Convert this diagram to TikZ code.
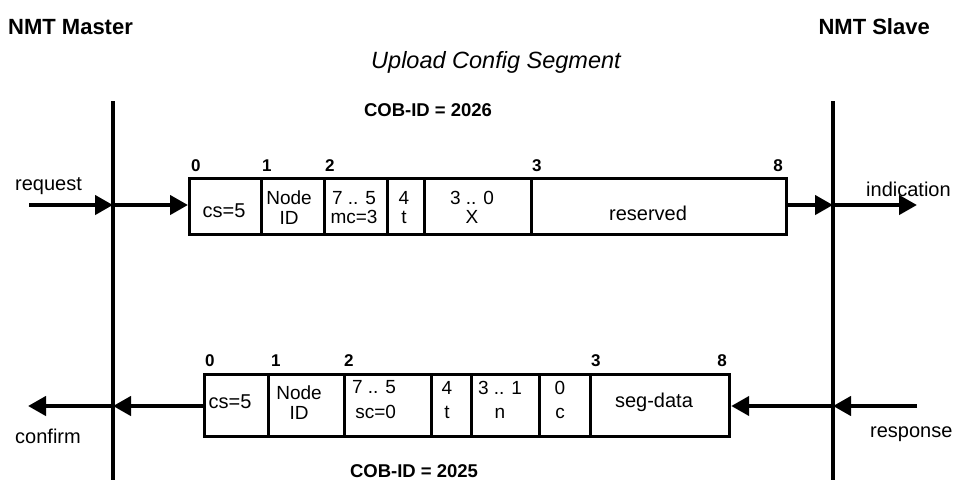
\documentclass[tikz,border=0pt]{standalone}
\usepackage{fontspec}
\setmainfont{Liberation Sans}
\usetikzlibrary{arrows.meta}
\begin{document}
\begin{tikzpicture}[x=1pt,y=-1pt,
  tl/.style={line width=4.5pt},
  arr/.style={line width=4.2pt,-{Triangle[length=18pt,width=19pt]}},
  cell/.style={draw,line width=3.2pt,anchor=north west,inner sep=0pt},
  txt/.style={anchor=base,inner sep=0pt,font=\fontsize{20}{20}\selectfont},
  two/.style={anchor=north,inner sep=0pt,align=center,font=\fontsize{19}{19.5}\selectfont},
  num/.style={anchor=base west,inner sep=0pt,font=\fontsize{17}{17}\selectfont\bfseries},
  head/.style={inner sep=0pt,font=\fontsize{22}{22}\selectfont\bfseries},
  cob/.style={anchor=base,inner sep=0pt,font=\fontsize{18.5}{18.5}\selectfont\bfseries}]
\useasboundingbox (0,0) rectangle (957,480);
% headings
\node[head,anchor=base west] (hm) at (8,34) {NMT Master};
\node[head,anchor=base east] (hs) at (930,34) {NMT Slave};
\node[anchor=base,inner sep=0pt,font=\fontsize{23.5}{23.5}\selectfont\itshape] (title) at (496,68) {Upload Config Segment};
\node[cob] (cobA) at (428,116) {COB-ID = 2026};
\node[cob] (cobB) at (414,477) {COB-ID = 2025};
% time lines
\coordinate (mt) at (113,101); \coordinate (mb) at (113,480);
\coordinate (st) at (833,101); \coordinate (sb) at (833,480);
\draw[tl] (mt) -- (mb);
\draw[tl] (st) -- (sb);
% top frame
\node[cell,minimum width=72pt,minimum height=56pt] (a0) at (188,177) {};
\node[cell,minimum width=63pt,minimum height=56pt] (a1) at (260,177) {};
\node[cell,minimum width=63pt,minimum height=56pt] (a2) at (323,177) {};
\node[cell,minimum width=37pt,minimum height=56pt] (a3) at (386,177) {};
\node[cell,minimum width=107pt,minimum height=56pt] (a4) at (423,177) {};
\node[cell,minimum width=255pt,minimum height=56pt] (a5) at (530,177) {};
\node[txt] (ta0) at (224,217) {cs=5};
\node[two] (ta1) at (289,191) {Node\\ID};
\node[two] (ta2) at (354,191) {7 .. 5\\mc=3};
\node[two] (ta3) at (404,191) {4\\t};
\node[two] (ta4) at (472,191) {3 .. 0\\X};
\node[txt] (ta5) at (648,220) {reserved};
\node[num] (na0) at (191,171) {0};
\node[num] (na1) at (262,171) {1};
\node[num] (na2) at (325,171) {2};
\node[num] (na3) at (532,171) {3};
\node[num,anchor=base east] (na8) at (783,171) {8};
% bottom frame
\node[cell,minimum width=64pt,minimum height=62pt] (b0) at (203,373) {};
\node[cell,minimum width=76pt,minimum height=62pt] (b1) at (267,373) {};
\node[cell,minimum width=87pt,minimum height=62pt] (b2) at (343,373) {};
\node[cell,minimum width=40pt,minimum height=62pt] (b3) at (430,373) {};
\node[cell,minimum width=68pt,minimum height=62pt] (b4) at (470,373) {};
\node[cell,minimum width=51pt,minimum height=62pt] (b5) at (538,373) {};
\node[cell,minimum width=139pt,minimum height=62pt] (b6) at (589,373) {};
\node[txt] (tb0) at (230,408) {cs=5};
\node[two] (tb1) at (299,386) {Node\\ID};
\node[two,align=right] (tb2) at (374,380) {7 .. 5\\[6pt]sc=0};
\node[two] (tb3) at (447,381) {4\\[5pt]t};
\node[two] (tb4) at (500,381) {3 .. 1\\[5pt]n};
\node[two] (tb5) at (560,381) {0\\[5pt]c};
\node[txt] (tb6) at (654,407) {seg-data};
\node[num] (nb0) at (205,366) {0};
\node[num] (nb1) at (271,366) {1};
\node[num] (nb2) at (344,366) {2};
\node[num] (nb3) at (591,366) {3};
\node[num,anchor=base east] (nb8) at (727,366) {8};
% arrows top
\coordinate (req) at (29,205);
\coordinate (m1) at (113,205);
\coordinate (s1) at (833,205);
\coordinate (ind) at (917,205);
\draw[arr] (req) -- (m1);
\draw[arr] (m1) -- (a0.west |- m1);
\draw[arr] (a5.east |- s1) -- (s1);
\draw[arr] (s1) -- (ind);
\node[txt,anchor=base west] (lreq) at (15,190) {request};
\node[txt,anchor=base west] (lind) at (866,196) {indication};
% arrows bottom
\coordinate (resp) at (917,406);
\coordinate (s2) at (833,406);
\coordinate (m2) at (113,406);
\coordinate (conf) at (28,406);
\draw[arr] (resp) -- (s2);
\draw[arr] (s2) -- (b6.east |- s2);
\draw[arr] (b0.west |- m2) -- (m2);
\draw[arr] (m2) -- (conf);
\node[txt,anchor=base west] (lresp) at (870,437) {response};
\node[txt,anchor=base west] (lconf) at (15,443) {confirm};
\end{tikzpicture}
\end{document}
